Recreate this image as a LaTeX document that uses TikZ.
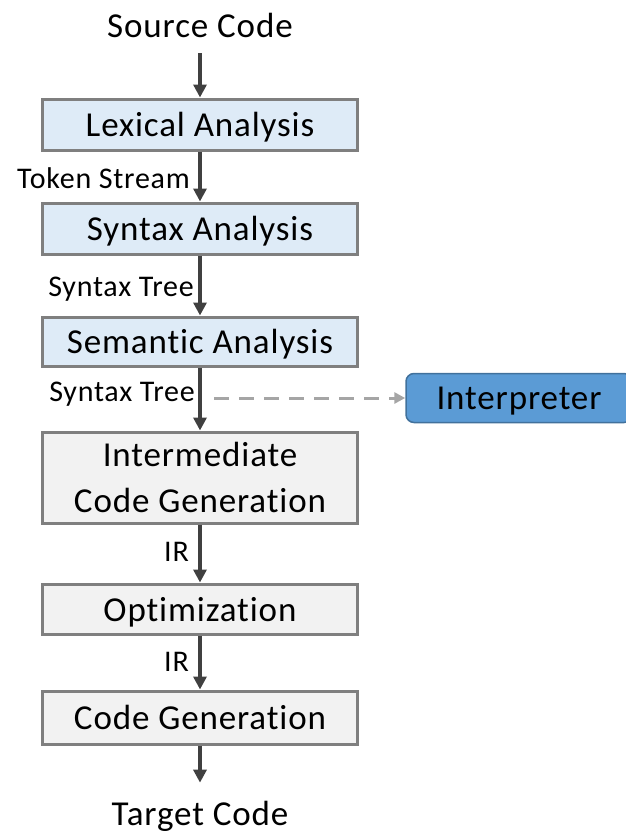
\documentclass[tikz,border=0pt]{standalone}
\usepackage{fontspec}
\setmainfont{Carlito}[LetterSpace=2.5, Ligatures=NoCommon]
\usetikzlibrary{arrows.meta}

\definecolor{boxgray}{HTML}{7F7F7F}
\definecolor{arrowgray}{HTML}{404040}
\definecolor{frontblue}{HTML}{DEEBF7}
\definecolor{backgray}{HTML}{F2F2F2}
\definecolor{interpfill}{HTML}{5B9BD5}
\definecolor{interpline}{HTML}{41719C}
\definecolor{dashgray}{HTML}{A5A5A5}

\begin{document}
\begin{tikzpicture}[x=1pt,y=-1pt,
  stage/.style={draw=boxgray, line width=3pt, minimum width=315pt, inner sep=0pt,
    align=center, text depth=0pt, font=\fontsize{35}{46}\selectfont},
  front/.style={stage, fill=frontblue},
  back/.style={stage, fill=backgray},
  flow/.style={draw=arrowgray, line width=3.5pt, -{Triangle[length=13pt,width=13pt]}},
  lbl/.style={anchor=east, inner sep=0pt, font=\fontsize{30}{34}\selectfont},
  endtext/.style={inner sep=0pt, font=\fontsize{35}{42}\selectfont}
]
\useasboundingbox (0,0) rectangle (626,833);
\clip (0,0) rectangle (626,833);

% pipeline stages
\node[front, minimum height=51pt] (lex) at (200,124.5) {Lexical Analysis};
\node[front, minimum height=51pt] (syn) at (200,228.5) {Syntax Analysis};
\node[front, minimum height=49pt] (sem) at (200,341.5) {Semantic Analysis};
\node[back, minimum height=91pt] (icg) at (200,477.5) {Intermediate\\Code Generation};
\node[back, minimum height=50pt] (opt) at (200,609) {Optimization};
\node[back, minimum height=53pt] (cg) at (200,717.5) {Code Generation};

% input and output
\node[endtext] (src) at (200,25) {Source Code};
\node[endtext] (tgt) at (200,816) {Target Code};

% interpreter branch
\node[draw=interpline, fill=interpfill, line width=1.5pt, rounded corners=8pt,
      minimum width=226pt, minimum height=49pt, inner sep=0pt, text depth=0pt,
      font=\fontsize{35}{42}\selectfont] (interp) at (519,398) {Interpreter};

% main flow
\draw[flow, shorten <=16pt] (src) -- (lex);
\draw[flow] (lex) -- (syn);
\draw[flow] (syn) -- (sem);
\draw[flow] (sem) -- (icg);
\draw[flow] (icg) -- (opt);
\draw[flow] (opt) -- (cg);
\draw[flow, shorten >=18pt] (cg) -- (tgt);

% labels on the flow
\node[lbl] (l1) at (190,178) {Token Stream};
\node[lbl] (l2) at (194,289) {Syntax Tree};
\node[lbl] (l3) at (195,394) {Syntax Tree};
\node[lbl] (l4) at (189,552) {IR};
\node[lbl] (l5) at (189,662) {IR};

% dashed branch to the interpreter
\coordinate (tap) at (214,398);
\draw[dashgray, line width=3pt, dash pattern=on 15pt off 10pt,
      -{Triangle[length=11pt,width=11pt]}] (tap) -- (interp.west);
\end{tikzpicture}
\end{document}
